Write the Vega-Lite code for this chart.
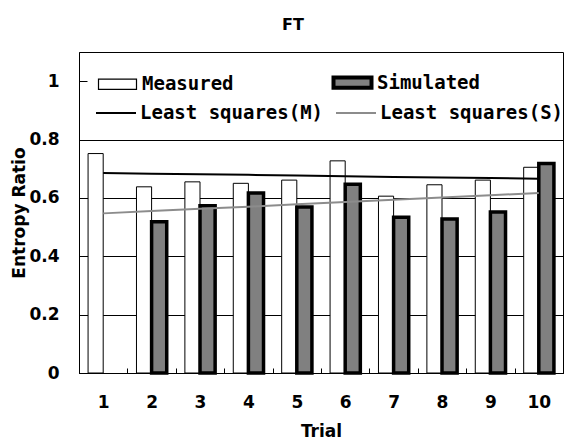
{
  "$schema": "https://vega.github.io/schema/vega-lite/v6.json",
  "autosize": "none",
  "width": 484,
  "height": 321,
  "padding": {"left": 79, "top": 52, "right": 1, "bottom": 66},
  "background": "white",
  "title": {"text": "FT", "fontSize": 16, "font": "DejaVu Sans", "fontWeight": "bold", "color": "black", "baseline": "alphabetic", "offset": 6, "dx": -28},
  "config": {
    "view": {"stroke": "black", "strokeWidth": 1},
    "axis": {"domainColor": "black", "tickColor": "black", "labelColor": "black", "titleColor": "black", "labelFont": "DejaVu Sans", "labelFontWeight": "bold", "labelFontSize": 17, "titleFont": "DejaVu Sans", "titleFontWeight": "bold", "titleFontSize": 17}
  },
  "datasets": {
    "bars": [
      {"Trial": 1, "series": "Measured", "value": 0.752},
      {"Trial": 2, "series": "Measured", "value": 0.638},
      {"Trial": 3, "series": "Measured", "value": 0.655},
      {"Trial": 4, "series": "Measured", "value": 0.650},
      {"Trial": 5, "series": "Measured", "value": 0.661},
      {"Trial": 6, "series": "Measured", "value": 0.727},
      {"Trial": 7, "series": "Measured", "value": 0.606},
      {"Trial": 8, "series": "Measured", "value": 0.645},
      {"Trial": 9, "series": "Measured", "value": 0.661},
      {"Trial": 10, "series": "Measured", "value": 0.705},
      {"Trial": 2, "series": "Simulated", "value": 0.518},
      {"Trial": 3, "series": "Simulated", "value": 0.573},
      {"Trial": 4, "series": "Simulated", "value": 0.617},
      {"Trial": 5, "series": "Simulated", "value": 0.569},
      {"Trial": 6, "series": "Simulated", "value": 0.647},
      {"Trial": 7, "series": "Simulated", "value": 0.534},
      {"Trial": 8, "series": "Simulated", "value": 0.528},
      {"Trial": 9, "series": "Simulated", "value": 0.552},
      {"Trial": 10, "series": "Simulated", "value": 0.718}
    ],
    "lines": [
      {"Trial": 1, "fit": "Least squares(M)", "value": 0.685},
      {"Trial": 2, "fit": "Least squares(M)", "value": 0.683},
      {"Trial": 3, "fit": "Least squares(M)", "value": 0.681},
      {"Trial": 4, "fit": "Least squares(M)", "value": 0.679},
      {"Trial": 5, "fit": "Least squares(M)", "value": 0.677},
      {"Trial": 6, "fit": "Least squares(M)", "value": 0.674},
      {"Trial": 7, "fit": "Least squares(M)", "value": 0.672},
      {"Trial": 8, "fit": "Least squares(M)", "value": 0.670},
      {"Trial": 9, "fit": "Least squares(M)", "value": 0.668},
      {"Trial": 10, "fit": "Least squares(M)", "value": 0.666},
      {"Trial": 1, "fit": "Least squares(S)", "value": 0.547},
      {"Trial": 2, "fit": "Least squares(S)", "value": 0.555},
      {"Trial": 3, "fit": "Least squares(S)", "value": 0.563},
      {"Trial": 4, "fit": "Least squares(S)", "value": 0.570},
      {"Trial": 5, "fit": "Least squares(S)", "value": 0.578},
      {"Trial": 6, "fit": "Least squares(S)", "value": 0.586},
      {"Trial": 7, "fit": "Least squares(S)", "value": 0.594},
      {"Trial": 8, "fit": "Least squares(S)", "value": 0.601},
      {"Trial": 9, "fit": "Least squares(S)", "value": 0.609},
      {"Trial": 10, "fit": "Least squares(S)", "value": 0.617}
    ]
  },
  "layer": [
    {
      "data": {"name": "bars"},
      "mark": {"type": "bar", "stroke": "black"},
      "encoding": {
        "x": {"field": "Trial", "type": "ordinal", "scale": {"paddingInner": 0, "paddingOuter": 0},
              "axis": {"title": "Trial", "labelAngle": 0, "grid": false, "tickBand": "extent", "tickSize": -5, "labelPadding": 26, "titlePadding": 13}},
        "xOffset": {"field": "series", "type": "nominal", "scale": {"domain": ["Measured", "Simulated"], "paddingInner": 0, "paddingOuter": 0.6}},
        "y": {"field": "value", "type": "quantitative", "scale": {"domain": [0, 1.1], "nice": false},
              "axis": {"title": "Entropy Ratio", "values": [0, 0.2, 0.4, 0.6, 0.8, 1], "format": "~g", "grid": true, "gridColor": "black", "gridWidth": 1,
                       "gridOpacity": {"condition": {"test": "datum.value === 1", "value": 0}, "value": 1},
                       "tickSize": -8, "labelPadding": 28, "titlePadding": 0}},
        "fill": {"field": "series", "type": "nominal", "scale": {"domain": ["Measured", "Simulated"], "range": ["white", "#808080"]},
                 "legend": {"title": null, "orient": "none", "legendX": 29, "legendY": 21, "direction": "horizontal", "columns": 2, "columnPadding": 91,
                            "symbolType": "M-1,-0.27H1V0.27H-1Z", "symbolSize": 1444, "symbolStrokeColor": "black", "symbolStrokeWidth": 1.2, "symbolOpacity": 1,
                            "labelFont": "DejaVu Sans Mono", "labelFontWeight": "bold", "labelFontSize": 19, "labelColor": "black", "labelOffset": 15, "labelLimit": 300,
                            "encode": {"symbols": {"update": {"strokeWidth": {"signal": "datum.value === 'Simulated' ? 4 : 1.2"}, "stroke": {"value": "black"}}}}}},
        "strokeWidth": {"condition": {"test": "datum.series === 'Simulated'", "value": 3.5}, "value": 1}
      }
    },
    {
      "data": {"name": "lines"},
      "mark": {"type": "line", "strokeWidth": 2},
      "encoding": {
        "x": {"field": "Trial", "type": "ordinal"},
        "y": {"field": "value", "type": "quantitative"},
        "stroke": {"field": "fit", "type": "nominal", "scale": {"domain": ["Least squares(M)", "Least squares(S)"], "range": ["black", "#8c8c8c"]},
                   "legend": {"title": null, "orient": "none", "legendX": 16, "legendY": 40, "direction": "horizontal", "columns": 2, "columnPadding": 8,
                              "symbolType": "stroke", "symbolSize": 1600, "symbolStrokeWidth": 2,
                              "labelFont": "DejaVu Sans Mono", "labelFontWeight": "bold", "labelFontSize": 19, "labelColor": "black", "labelOffset": 3, "labelLimit": 300}}
      }
    }
  ]
}
